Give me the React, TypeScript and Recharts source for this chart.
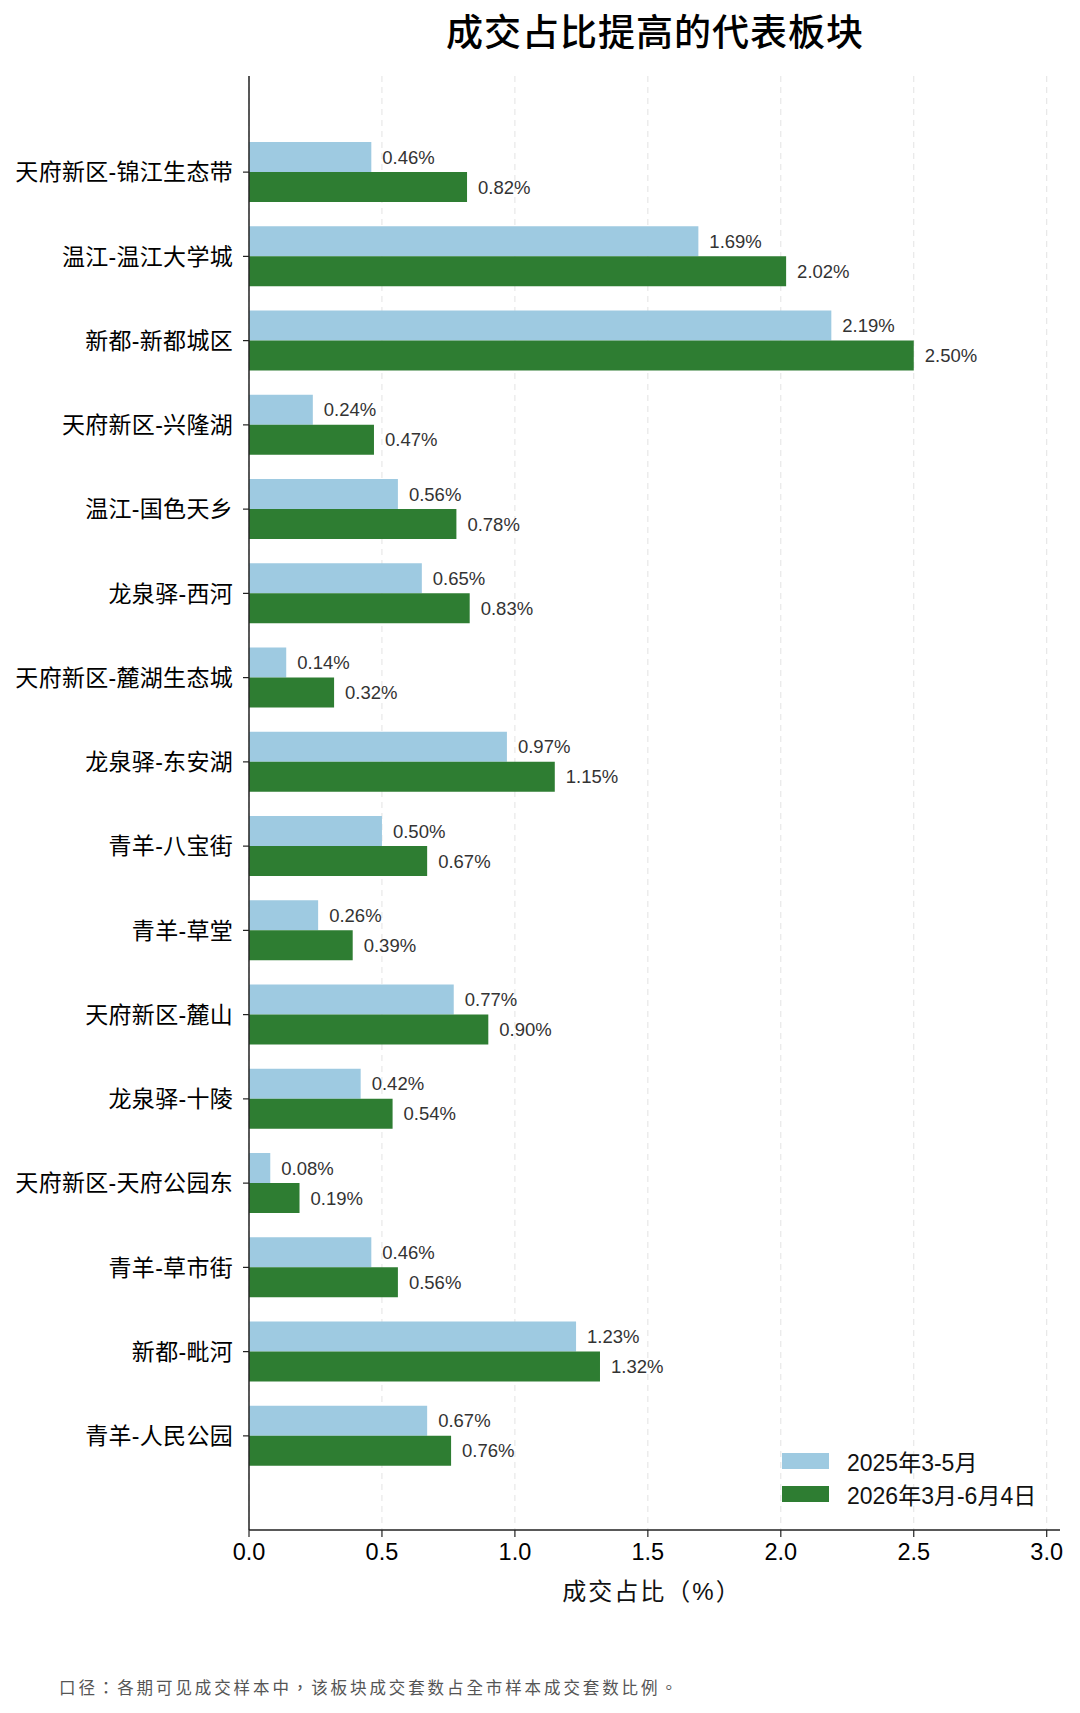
import React from "react";
import { BarChart, Bar, XAxis, YAxis, CartesianGrid, LabelList, Legend } from "recharts";

const categories = [
  "天府新区-锦江生态带",
  "温江-温江大学城",
  "新都-新都城区",
  "天府新区-兴隆湖",
  "温江-国色天乡",
  "龙泉驿-西河",
  "天府新区-麓湖生态城",
  "龙泉驿-东安湖",
  "青羊-八宝街",
  "青羊-草堂",
  "天府新区-麓山",
  "龙泉驿-十陵",
  "天府新区-天府公园东",
  "青羊-草市街",
  "新都-毗河",
  "青羊-人民公园",
];

const values2025 = [0.46, 1.69, 2.19, 0.24, 0.56, 0.65, 0.14, 0.97, 0.5, 0.26, 0.77, 0.42, 0.08, 0.46, 1.23, 0.67];
const values2026 = [0.82, 2.02, 2.5, 0.47, 0.78, 0.83, 0.32, 1.15, 0.67, 0.39, 0.9, 0.54, 0.19, 0.56, 1.32, 0.76];

const xTicks = [0, 0.5, 1.0, 1.5, 2.0, 2.5, 3.0];
const xMax = 3.05;
const seriesNames = ["2025年3-5月", "2026年3月-6月4日"];
const seriesColors = ["#9ecae1", "#2e7d32"];

const data = categories.map((name, i) => ({ name, v2025: values2025[i], v2026: values2026[i] }));

const FONT = "'Liberation Sans', Arial, 'Noto Sans CJK SC', sans-serif";
const FONT_TC = "'Liberation Sans', Arial, 'Noto Sans CJK TC', sans-serif";

const fmt = (v: any) => `${Number(v).toFixed(2)}%`;

const LegendContent = () => (
  <div style={{ fontFamily: FONT }}>
    {seriesNames.map((n, i) => (
      <div key={n} style={{ display: "flex", alignItems: "center", height: 33 }}>
        <div style={{ width: 47, height: 16, background: seriesColors[i], marginRight: 18 }} />
        <span style={{ fontSize: 23, color: "#111", whiteSpace: "nowrap" }}>{n}</span>
      </div>
    ))}
  </div>
);

const gridX = (props: any) => {
  const { xAxis, offset } = props;
  if (xAxis && typeof xAxis.scale === "function") {
    return xTicks.map((t) => xAxis.scale(t));
  }
  return xTicks.map((t) => offset.left + (t / xMax) * offset.width);
};

export default function App() {
  return (
    <div style={{ position: "relative", width: 1080, height: 1713, background: "#fff", fontFamily: FONT }}>
      <style>{`body{margin:0;background:#fff}`}</style>
      <div
        style={{
          position: "absolute",
          left: 0,
          width: 1310,
          top: 8,
          textAlign: "center",
          fontSize: 37,
          letterSpacing: 1,
          color: "#000",
          fontFamily: "'Noto Sans CJK SC', sans-serif",
          lineHeight: "44px",
          fontWeight: 500,
        }}
      >
        成交占比提高的代表板块
      </div>
      <div style={{ position: "absolute", left: 0, top: 0 }}>
        <BarChart
          width={1080}
          height={1713}
          data={data}
          layout="vertical"
          margin={{ top: 76, right: 20, bottom: 143, left: 0 }}
          barGap={0}
        >
          <CartesianGrid
            horizontal={false}
            vertical={true}
            stroke="#e3e3e3"
            strokeDasharray="6 5"
            verticalCoordinatesGenerator={gridX}
          />
          <XAxis
            type="number"
            domain={[0, xMax]}
            ticks={xTicks}
            allowDataOverflow
            tickFormatter={(v: number) => v.toFixed(1)}
            tick={{ fontSize: 23.5, fill: "#000", fontFamily: FONT }}
            tickSize={7}
            tickMargin={6}
            height={40}
            axisLine={{ stroke: "#222", strokeWidth: 1.5 }}
            tickLine={{ stroke: "#222", strokeWidth: 1.2 }}
          />
          <YAxis
            type="category"
            dataKey="name"
            width={249}
            padding={{ top: 54, bottom: 52 }}
            tick={{ fontSize: 23, fill: "#000", fontFamily: FONT, letterSpacing: 0.3 }}
            tickSize={6}
            tickMargin={10}
            interval={0}
            axisLine={{ stroke: "#222", strokeWidth: 1.5 }}
            tickLine={{ stroke: "#222", strokeWidth: 1.2 }}
          />
          <Legend
            verticalAlign="middle"
            align="center"
            layout="vertical"
            wrapperStyle={{ position: "absolute", left: 782, top: 1444, width: 290, height: 68 }}
            content={() => <LegendContent />}
          />
          <Bar dataKey="v2025" name={seriesNames[0]} fill={seriesColors[0]} barSize={30} isAnimationActive={false}>
            <LabelList dataKey="v2025" position="right" offset={11} formatter={fmt} fill="#333" fontSize={18.5} fontFamily={FONT} />
          </Bar>
          <Bar dataKey="v2026" name={seriesNames[1]} fill={seriesColors[1]} barSize={30} isAnimationActive={false}>
            <LabelList dataKey="v2026" position="right" offset={11} formatter={fmt} fill="#333" fontSize={18.5} fontFamily={FONT} />
          </Bar>
        </BarChart>
      </div>
      <div
        style={{
          position: "absolute",
          left: 502,
          width: 300,
          top: 1576,
          textAlign: "center",
          fontSize: 24,
          letterSpacing: 2,
          color: "#111",
          lineHeight: "32px",
          whiteSpace: "nowrap",
          fontFamily: FONT_TC,
        }}
      >
        成交占比（%）
      </div>
      <div
        style={{
          position: "absolute",
          left: 59,
          top: 1676,
          fontSize: 16.5,
          letterSpacing: 2.9,
          color: "#555",
          lineHeight: "24px",
          whiteSpace: "nowrap",
          fontFamily: FONT_TC,
        }}
      >
        口径：各期可见成交样本中，该板块成交套数占全市样本成交套数比例。
      </div>
    </div>
  );
}
